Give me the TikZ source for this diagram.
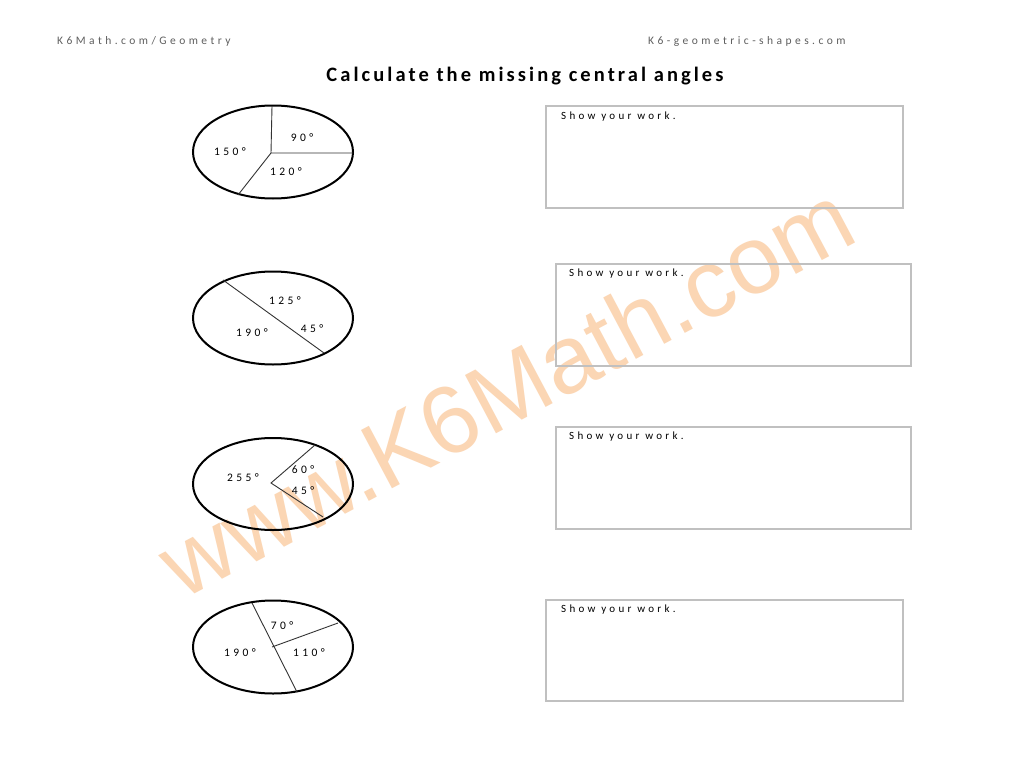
\documentclass[tikz,border=0pt]{standalone}
\usepackage{fontspec}
\setmainfont{Carlito}
\newfontfamily\hdrfont[LetterSpace=30]{Carlito}
\newfontfamily\lblfont[LetterSpace=30]{Carlito}
\newfontfamily\wrkfont[LetterSpace=30]{Carlito}
\newfontfamily\ttlfont[LetterSpace=15]{Carlito}
\newfontfamily\wmfont{Liberation Sans}
\definecolor{wmcol}{RGB}{251,214,180}
\definecolor{hdrcol}{RGB}{95,95,95}
\definecolor{boxcol}{RGB}{192,192,192}
\tikzset{
  hdr/.style={anchor=west,inner sep=0pt,text=hdrcol,font=\hdrfont\fontsize{11.5}{13}\selectfont},
  ttl/.style={inner sep=0pt,font=\ttlfont\bfseries\fontsize{20.5}{24}\selectfont},
  wm/.style={inner sep=0pt,text=wmcol,font=\wmfont\fontsize{96}{100}\selectfont},
  rim/.style={draw=black,line width=2pt},
  radius line/.style={draw=black!80,line width=0.9pt},
  ang/.style={inner sep=0pt,font=\lblfont\fontsize{11.5}{13}\selectfont},
  workbox/.style={draw=boxcol,line width=1.4pt},
  worktxt/.style={anchor=west,inner sep=0pt,font=\wrkfont\fontsize{11}{13}\selectfont}
}
\begin{document}
\begin{tikzpicture}[x=1pt,y=-1pt]
\useasboundingbox[fill=white] (0,0) rectangle (1024,768);
% watermark
\node[wm,rotate=28] (wmark) at (506,390) {www.K6Math.com};
% header
\node[hdr] (hl) at (57,41) {K6Math.com/Geometry};
\node[hdr] (hr) at (648,41) {K6-geometric-shapes.com};
\node[ttl] (title) at (525,76) {Calculate the missing central angles};
% circle 1
\draw[rim] (273,152) ellipse [x radius=80, y radius=46.5];
\coordinate (c1) at (271,153);
\coordinate (c1a) at (272,106);
\coordinate (c1b) at (353,153);
\coordinate (c1c) at (238,195);
\draw[radius line] (c1a) -- (c1) -- (c1b);
\draw[radius line] (c1) -- (c1c);
\node[ang] (l1a) at (302,138) {90°};
\node[ang] (l1b) at (230,152) {150°};
\node[ang] (l1c) at (286,172) {120°};
% circle 2
\draw[rim] (273,318) ellipse [x radius=80, y radius=46.5];
\coordinate (c2a) at (223,280);
\coordinate (c2b) at (324,353);
\draw[radius line] (c2a) -- (c2b);
\node[ang] (l2a) at (285,301) {125°};
\node[ang] (l2b) at (312,329) {45°};
\node[ang] (l2c) at (252,333) {190°};
% circle 3
\draw[rim] (273,484) ellipse [x radius=80, y radius=46];
\coordinate (c3) at (271,483);
\coordinate (c3a) at (315,445);
\coordinate (c3b) at (323,517);
\draw[radius line] (c3a) -- (c3) -- (c3b);
\node[ang] (l3a) at (303,470) {60°};
\node[ang] (l3b) at (303,491) {45°};
\node[ang] (l3c) at (243,478) {255°};
% circle 4
\draw[rim] (273,647) ellipse [x radius=80, y radius=46.5];
\coordinate (c4) at (272,647);
\coordinate (c4a) at (252,603);
\coordinate (c4b) at (297,692);
\coordinate (c4c) at (338,623);
\draw[radius line] (c4a) -- (c4b);
\draw[radius line] (c4) -- (c4c);
\node[ang] (l4a) at (282,626) {70°};
\node[ang] (l4b) at (240,653) {190°};
\node[ang] (l4c) at (309,653) {110°};
% work boxes
\draw[workbox] (546,106) rectangle (903,208);
\node[worktxt] (w1) at (561,117) {Show your work.};
\draw[workbox] (556,264) rectangle (911,366);
\node[worktxt] (w2) at (569,274) {Show your work.};
\draw[workbox] (556,427) rectangle (911,529);
\node[worktxt] (w3) at (569,437) {Show your work.};
\draw[workbox] (546,600) rectangle (903,701);
\node[worktxt] (w4) at (561,610) {Show your work.};
\end{tikzpicture}
\end{document}
